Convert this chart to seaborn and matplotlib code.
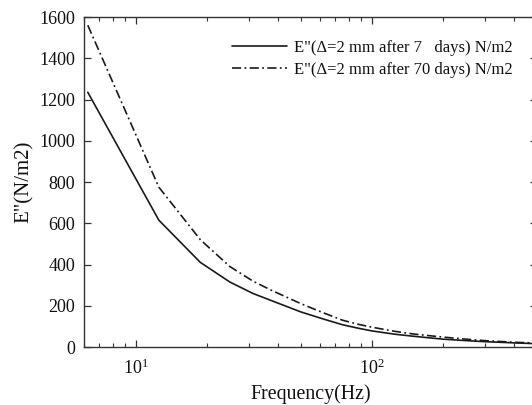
import matplotlib
matplotlib.use("Agg")
import matplotlib.pyplot as plt
import seaborn as sns
import numpy as np
import pandas as pd
from matplotlib.ticker import LogLocator, NullFormatter

# ---- data ----
freq_hz = [6.25, 12.5, 18.75, 25, 31.25, 37.5, 50, 62.5, 75, 87.5, 100,
           125, 150, 200, 250, 300, 400, 500]
e_7days = [1235, 615, 410, 315, 260, 225, 170, 135, 108, 91, 78,
           62, 52, 38, 31, 26, 20, 16]
e_70days = [1560, 775, 520, 390, 320, 275, 210, 165, 130, 110, 96,
            76, 63, 48, 38, 31, 23, 19]
label_7 = 'E"(\u0394=2 mm after 7   days) N/m2'
label_70 = 'E"(\u0394=2 mm after 70 days) N/m2'
y_ticks = [0, 200, 400, 600, 800, 1000, 1200, 1400, 1600]

sns.set_theme(style="ticks")
plt.rcParams['font.family'] = ['Liberation Serif', 'DejaVu Serif']
plt.rcParams['mathtext.fontset'] = 'custom'
plt.rcParams['mathtext.rm'] = 'Liberation Serif'
plt.rcParams['mathtext.it'] = 'Liberation Serif:italic'

W, H = 532, 405
fig = plt.figure(figsize=(W / 100, H / 100), dpi=100)
left, right, top, bottom = 83.6, 536.9, 17.0, 347.0
ax = fig.add_axes([left / W, 1 - bottom / H, (right - left) / W, (bottom - top) / H])

df = pd.DataFrame({"f": freq_hz, "a": e_7days, "b": e_70days})
lc = "#1a1a1a"
sns.lineplot(data=df, x="f", y="a", ax=ax, color=lc, lw=1.2, label=label_7)
sns.lineplot(data=df, x="f", y="b", ax=ax, color=lc, lw=1.2, label=label_70,
             linestyle=(0, (5.5, 2.0, 1.1, 2.0)))

ax.set_xscale("log")
ax.set_xlim(6, 500)
ax.set_ylim(0, 1600)
ax.set_yticks(y_ticks)
ax.xaxis.set_minor_locator(LogLocator(base=10, subs=np.arange(2, 10)))
ax.xaxis.set_minor_formatter(NullFormatter())

for s in ax.spines.values():
    s.set_visible(True)
    s.set_color("#333333")
    s.set_linewidth(1.0)

ax.tick_params(axis="both", which="both", direction="in", top=True, right=True,
               colors="#333333", labelcolor="#111111")
ax.tick_params(axis="both", which="major", length=5, width=0.9, labelsize=13)
ax.tick_params(axis="x", which="minor", length=3, width=0.8)
ax.tick_params(axis="x", which="major", pad=8)
ax.tick_params(axis="y", which="major", pad=6)

ax.set_xlabel("Frequency(Hz)", fontsize=14.3, color="#111111", labelpad=5)
ax.set_ylabel('E"(N/m2)', fontsize=15, color="#111111", labelpad=4)

leg = ax.legend(loc="upper left", bbox_to_anchor=(232 / W, 1 - 40 / H),
                bbox_transform=fig.transFigure, frameon=False, borderpad=0,
                handlelength=3.3, handletextpad=0.4, labelspacing=0.35,
                fontsize=12, borderaxespad=0)
for t in leg.get_texts():
    t.set_color("#111111")

fig.savefig("out.png", dpi=100)
